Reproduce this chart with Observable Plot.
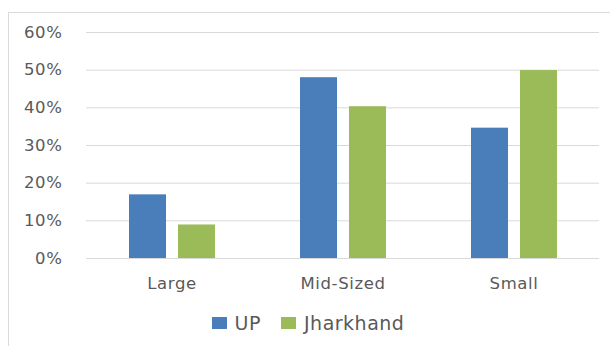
<!DOCTYPE html>
<html>
<head>
<meta charset="utf-8">
<script src="https://cdn.jsdelivr.net/npm/d3@7"></script>
<script src="https://cdn.jsdelivr.net/npm/@observablehq/plot@0.6"></script>
<style>
  html, body { margin: 0; padding: 0; background: #fff; }
  #wrap { position: relative; width: 610px; height: 346px; overflow: hidden; font-family: "DejaVu Sans", sans-serif; }
  #frame { position: absolute; left: 8px; top: 12px; width: 700px; height: 400px; border: 1px solid #d9d9d9; box-sizing: border-box; pointer-events: none; }
  #chart { position: absolute; left: 0; top: 0; }
  #legend { position: absolute; left: 0; top: 312px; width: 610px; display: flex; justify-content: center; padding-left: 26px; box-sizing: border-box; }
  .sw { display: flex; align-items: center; margin-right: 20px; font-size: 19px; color: #595959; letter-spacing: 0.5px; }
  .sw span.box { display: inline-block; width: 15px; height: 12px; margin-right: 8px; }
  #chart text { letter-spacing: 0.6px; }
</style>
</head>
<body>
<div id="wrap">
  <div id="frame"></div>
  <div id="chart"></div>
  <div id="legend"></div>
</div>
<script>
const categories = ["Large", "Mid-Sized", "Small"];
const seriesNames = ["UP", "Jharkhand"];
const upValues = [16.9, 48.0, 34.6];
const jharkhandValues = [8.9, 40.3, 49.9];
const yTicks = [0, 10, 20, 30, 40, 50, 60];
const colors = ["#4a7ebb", "#9bbb59"];

const data = [];
categories.forEach((c, i) => {
  data.push({cat: c, series: "UP", value: upValues[i]});
  data.push({cat: c, series: "Jharkhand", value: jharkhandValues[i]});
});

const chart = Plot.plot({
  width: 610,
  height: 300,
  marginLeft: 86,
  marginRight: 11,
  marginTop: 32,
  marginBottom: 42,
  style: {fontFamily: "DejaVu Sans, sans-serif", fontSize: "16px", color: "#595959", background: "transparent"},
  fx: {domain: categories, padding: 0, label: null},
  x: {domain: seriesNames, paddingInner: 0.245, paddingOuter: 0.867, axis: null},
  y: {domain: [0, 60], label: null},
  color: {domain: seriesNames, range: colors},
  marks: [
    Plot.gridY(yTicks, {stroke: "#d9d9d9", strokeOpacity: 1, strokeWidth: 1}),
    Plot.barY(data, {fx: "cat", x: "series", y: "value", fill: "series"}),
    Plot.axisY(yTicks, {tickSize: 0, tickPadding: 24, tickFormat: d => d + "%", fontSize: 16.5, fill: "#595959", label: null}),
    Plot.axisFx({anchor: "bottom", tickSize: 0, tickPadding: 19, fontSize: 16.5, fill: "#595959", label: null})
  ]
});
document.getElementById("chart").appendChild(chart);

const leg = document.getElementById("legend");
seriesNames.forEach((s, i) => {
  const d = document.createElement("div");
  d.className = "sw";
  const b = document.createElement("span");
  b.className = "box";
  b.style.background = colors[i];
  d.appendChild(b);
  d.appendChild(document.createTextNode(s));
  leg.appendChild(d);
});
</script>
</body>
</html>
